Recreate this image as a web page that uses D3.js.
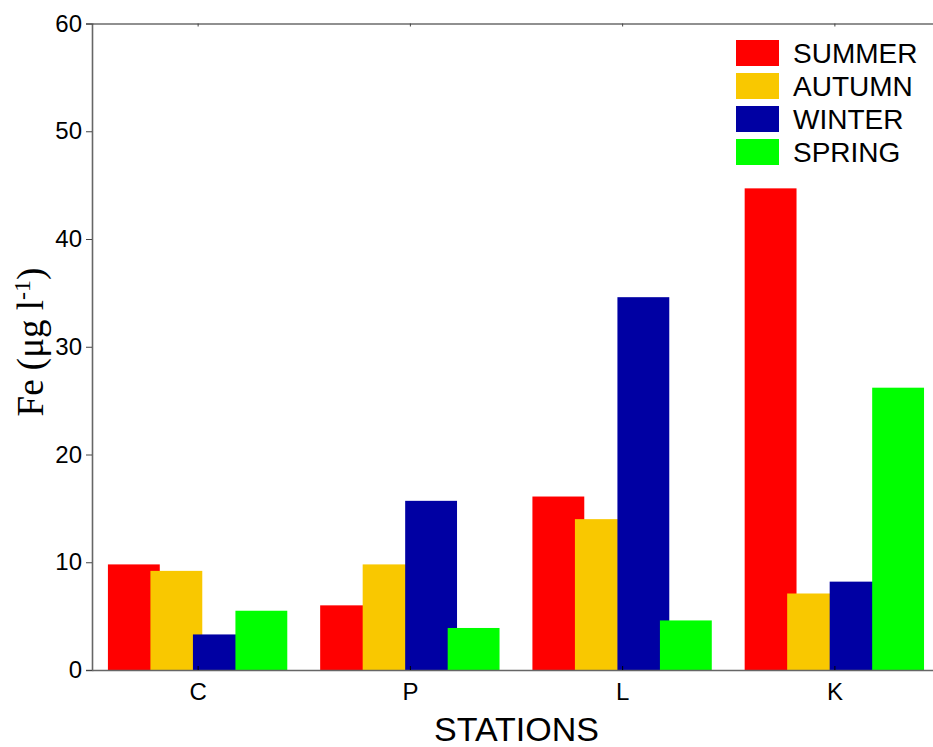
<!DOCTYPE html>
<html>
<head>
<meta charset="utf-8">
<script src="https://cdn.jsdelivr.net/npm/d3@7"></script>
<style>
  body { margin: 0; background: #fff; }
  svg { display: block; }
</style>
</head>
<body>
<svg id="chart" width="933" height="747"></svg>
<script>
// data
const stations = ['C', 'P', 'L', 'K'];
const seasons = ['SUMMER', 'AUTUMN', 'WINTER', 'SPRING'];
const summer = [9.8, 6.0, 16.1, 44.7];
const autumn = [9.2, 9.8, 14.0, 7.1];
const winter = [3.3, 15.7, 34.6, 8.2];
const spring = [5.5, 3.9, 4.6, 26.2];
const yTicks = [0, 10, 20, 30, 40, 50, 60];
const colors = ['#ff0000', '#f9c800', '#0000a3', '#00ff00'];

const series = [summer, autumn, winter, spring];

const svg = d3.select('#chart');
const plotL = 92, plotR = 941, plotT = 23.5, plotB = 670;

const x = d3.scaleBand().domain(stations).range([plotL, plotR]);
const xs = d3.scaleBand().domain(seasons)
    .range([x.bandwidth() * 0.075, x.bandwidth() * 0.876]);
const barW = xs.step() * 1.22;   // bars overlap a bit, like the original
const y = d3.scaleLinear().domain([0, 60]).range([plotB, plotT]);
const color = d3.scaleOrdinal().domain(seasons).range(colors);

// bars, one group per season so later seasons sit on top
seasons.forEach((s, i) => {
    svg.append('g')
        .selectAll('rect')
        .data(stations.map((st, j) => ({ st, v: series[i][j] })))
        .join('rect')
        .attr('x', d => x(d.st) + xs(s))
        .attr('y', d => y(d.v))
        .attr('width', barW)
        .attr('height', d => y(0) - y(d.v))
        .attr('fill', color(s));
});

// left axis
const yAxis = svg.append('g')
    .attr('transform', `translate(${plotL},0)`)
    .call(d3.axisLeft(y).tickValues(yTicks).tickSize(6).tickPadding(4));
yAxis.select('.domain').attr('stroke', '#666').attr('stroke-width', 1.6);
yAxis.selectAll('.tick line').attr('stroke', '#444');
yAxis.selectAll('text')
    .attr('font-family', 'Liberation Sans, Arial, sans-serif')
    .attr('font-size', 24).attr('fill', '#000');

// bottom axis, ticks point inward
const xAxis = svg.append('g')
    .attr('transform', `translate(0,${plotB})`)
    .call(d3.axisBottom(x).tickSize(-4).tickSizeOuter(0).tickPadding(13));
xAxis.select('.domain').attr('stroke', '#666').attr('stroke-width', 1.6);
xAxis.selectAll('.tick line').attr('stroke', '#000');
xAxis.selectAll('text')
    .attr('font-family', 'Liberation Sans, Arial, sans-serif')
    .attr('font-size', 24).attr('fill', '#000');

// top border with inward ticks
const topAxis = svg.append('g')
    .attr('transform', `translate(0,${plotT})`)
    .call(d3.axisTop(x).tickSize(-3).tickSizeOuter(0).tickFormat(''));
topAxis.select('.domain').attr('stroke', '#222').attr('stroke-width', 1.2);
topAxis.selectAll('.tick line').attr('stroke', '#444');

// axis titles
svg.append('text')
    .attr('x', (plotL + plotR) / 2)
    .attr('y', 741)
    .attr('text-anchor', 'middle')
    .attr('font-family', 'Liberation Sans, Arial, sans-serif')
    .attr('font-size', 34)
    .text('STATIONS');

const yl = svg.append('text')
    .attr('transform', 'translate(43,342) rotate(-90)')
    .attr('text-anchor', 'middle')
    .attr('font-family', 'Liberation Serif, Times New Roman, serif')
    .attr('font-size', 37);
yl.append('tspan').text('Fe (\u03bcg l');
yl.append('tspan').attr('font-size', 24).attr('dy', -13).text('-1');
yl.append('tspan').attr('dy', 13).text(')');

// legend
const legend = svg.append('g').attr('transform', 'translate(736,40)');
const item = legend.selectAll('g')
    .data(seasons)
    .join('g')
    .attr('transform', (d, i) => `translate(0,${i * 33})`);
item.append('rect')
    .attr('width', 43).attr('height', 26)
    .attr('fill', d => color(d));
item.append('text')
    .attr('x', 57).attr('y', 23)
    .attr('font-family', 'Liberation Sans, Arial, sans-serif')
    .attr('font-size', 28)
    .text(d => d);
</script>
</body>
</html>
